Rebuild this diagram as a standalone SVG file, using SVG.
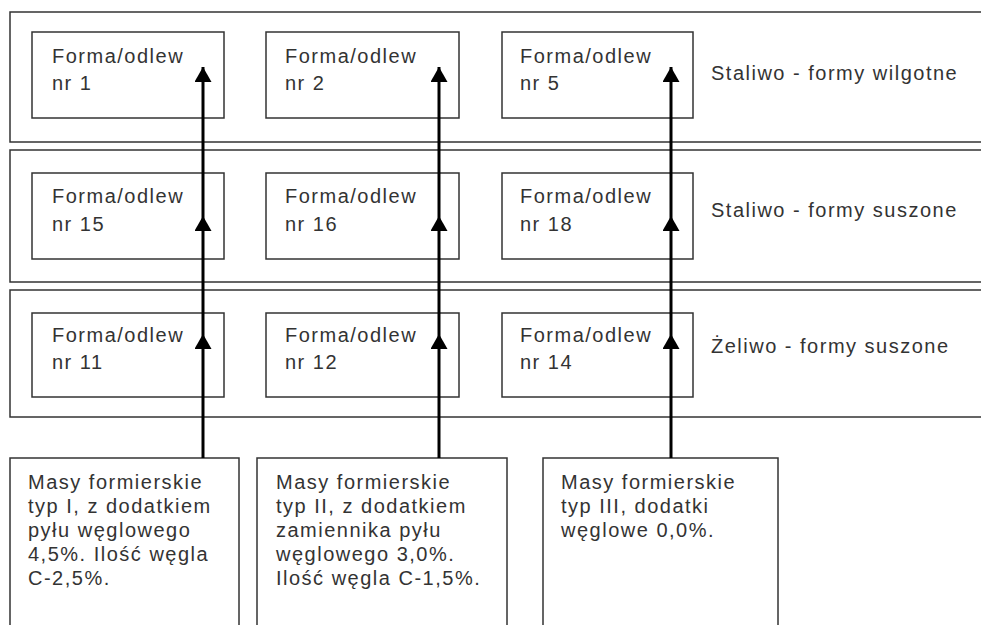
<svg xmlns="http://www.w3.org/2000/svg" width="981" height="625" viewBox="0 0 981 625">
<style>
.panel{fill:#fff;stroke:#333;stroke-width:1.5}
.box{fill:#fff;stroke:#333;stroke-width:1.5}
text{font-family:"Liberation Sans",Arial,sans-serif;font-size:20px;fill:#333;letter-spacing:1.5px}
.conn{stroke:#000;stroke-width:3;fill:none}
</style>
<defs>
<marker id="ah" markerUnits="userSpaceOnUse" markerWidth="16" markerHeight="18" refX="15" refY="8.5" orient="auto" viewBox="0 0 16 18">
<path d="M0 0 L15 8.5 L0 17 Z" fill="#000"/>
</marker>
</defs>
<rect width="981" height="625" fill="#fff"/>
<g id="row1">
<rect class="panel" x="10" y="12" width="990" height="130"/>
<text x="711" y="80">Staliwo - formy wilgotne</text>
</g>
<g id="row2">
<rect class="panel" x="10" y="150" width="990" height="132"/>
<text x="711" y="217">Staliwo - formy suszone</text>
</g>
<g id="row3">
<rect class="panel" x="10" y="290" width="990" height="127"/>
<text x="711" y="353">Żeliwo - formy suszone</text>
</g>
<g id="n1"><rect class="box" x="32" y="32" width="192" height="86"/><text x="52" y="63">Forma/odlew</text><text x="52" y="90">nr 1</text></g>
<g id="n2"><rect class="box" x="266" y="32" width="193" height="86"/><text x="285" y="63">Forma/odlew</text><text x="285" y="90">nr 2</text></g>
<g id="n5"><rect class="box" x="502" y="32" width="191" height="86"/><text x="520" y="63">Forma/odlew</text><text x="520" y="90">nr 5</text></g>
<g id="n15"><rect class="box" x="32" y="173" width="192" height="86"/><text x="52" y="203">Forma/odlew</text><text x="52" y="231">nr 15</text></g>
<g id="n16"><rect class="box" x="266" y="173" width="193" height="86"/><text x="285" y="203">Forma/odlew</text><text x="285" y="231">nr 16</text></g>
<g id="n18"><rect class="box" x="502" y="173" width="191" height="86"/><text x="520" y="203">Forma/odlew</text><text x="520" y="231">nr 18</text></g>
<g id="n11"><rect class="box" x="32" y="313" width="192" height="84"/><text x="52" y="342">Forma/odlew</text><text x="52" y="369">nr 11</text></g>
<g id="n12"><rect class="box" x="266" y="313" width="193" height="84"/><text x="285" y="342">Forma/odlew</text><text x="285" y="369">nr 12</text></g>
<g id="n14"><rect class="box" x="502" y="313" width="191" height="84"/><text x="520" y="342">Forma/odlew</text><text x="520" y="369">nr 14</text></g>
<g id="m1"><rect class="box" x="10" y="458" width="229" height="180"/>
<text x="28" y="489">Masy formierskie</text><text x="28" y="513">typ I, z dodatkiem</text><text x="28" y="537">pyłu węglowego</text><text x="28" y="561">4,5%. Ilość węgla</text><text x="28" y="585">C-2,5%.</text></g>
<g id="m2"><rect class="box" x="257" y="458" width="250" height="180"/>
<text x="276" y="489">Masy formierskie</text><text x="276" y="513">typ II, z dodatkiem</text><text x="276" y="537">zamiennika pyłu</text><text x="276" y="561">węglowego 3,0%.</text><text x="276" y="585">Ilość węgla C-1,5%.</text></g>
<g id="m3"><rect class="box" x="543" y="458" width="235" height="180"/>
<text x="561" y="489">Masy formierskie</text><text x="561" y="513">typ III, dodatki</text><text x="561" y="537">węglowe 0,0%.</text></g>
<g id="connectors">
<line class="conn" x1="203" y1="458" x2="203" y2="334" marker-end="url(#ah)"/>
<line class="conn" x1="203" y1="334" x2="203" y2="216" marker-end="url(#ah)"/>
<line class="conn" x1="203" y1="216" x2="203" y2="67" marker-end="url(#ah)"/>
<line class="conn" x1="439" y1="458" x2="439" y2="334" marker-end="url(#ah)"/>
<line class="conn" x1="439" y1="334" x2="439" y2="216" marker-end="url(#ah)"/>
<line class="conn" x1="439" y1="216" x2="439" y2="67" marker-end="url(#ah)"/>
<line class="conn" x1="671" y1="458" x2="671" y2="334" marker-end="url(#ah)"/>
<line class="conn" x1="671" y1="334" x2="671" y2="216" marker-end="url(#ah)"/>
<line class="conn" x1="671" y1="216" x2="671" y2="67" marker-end="url(#ah)"/>
</g>
</svg>
